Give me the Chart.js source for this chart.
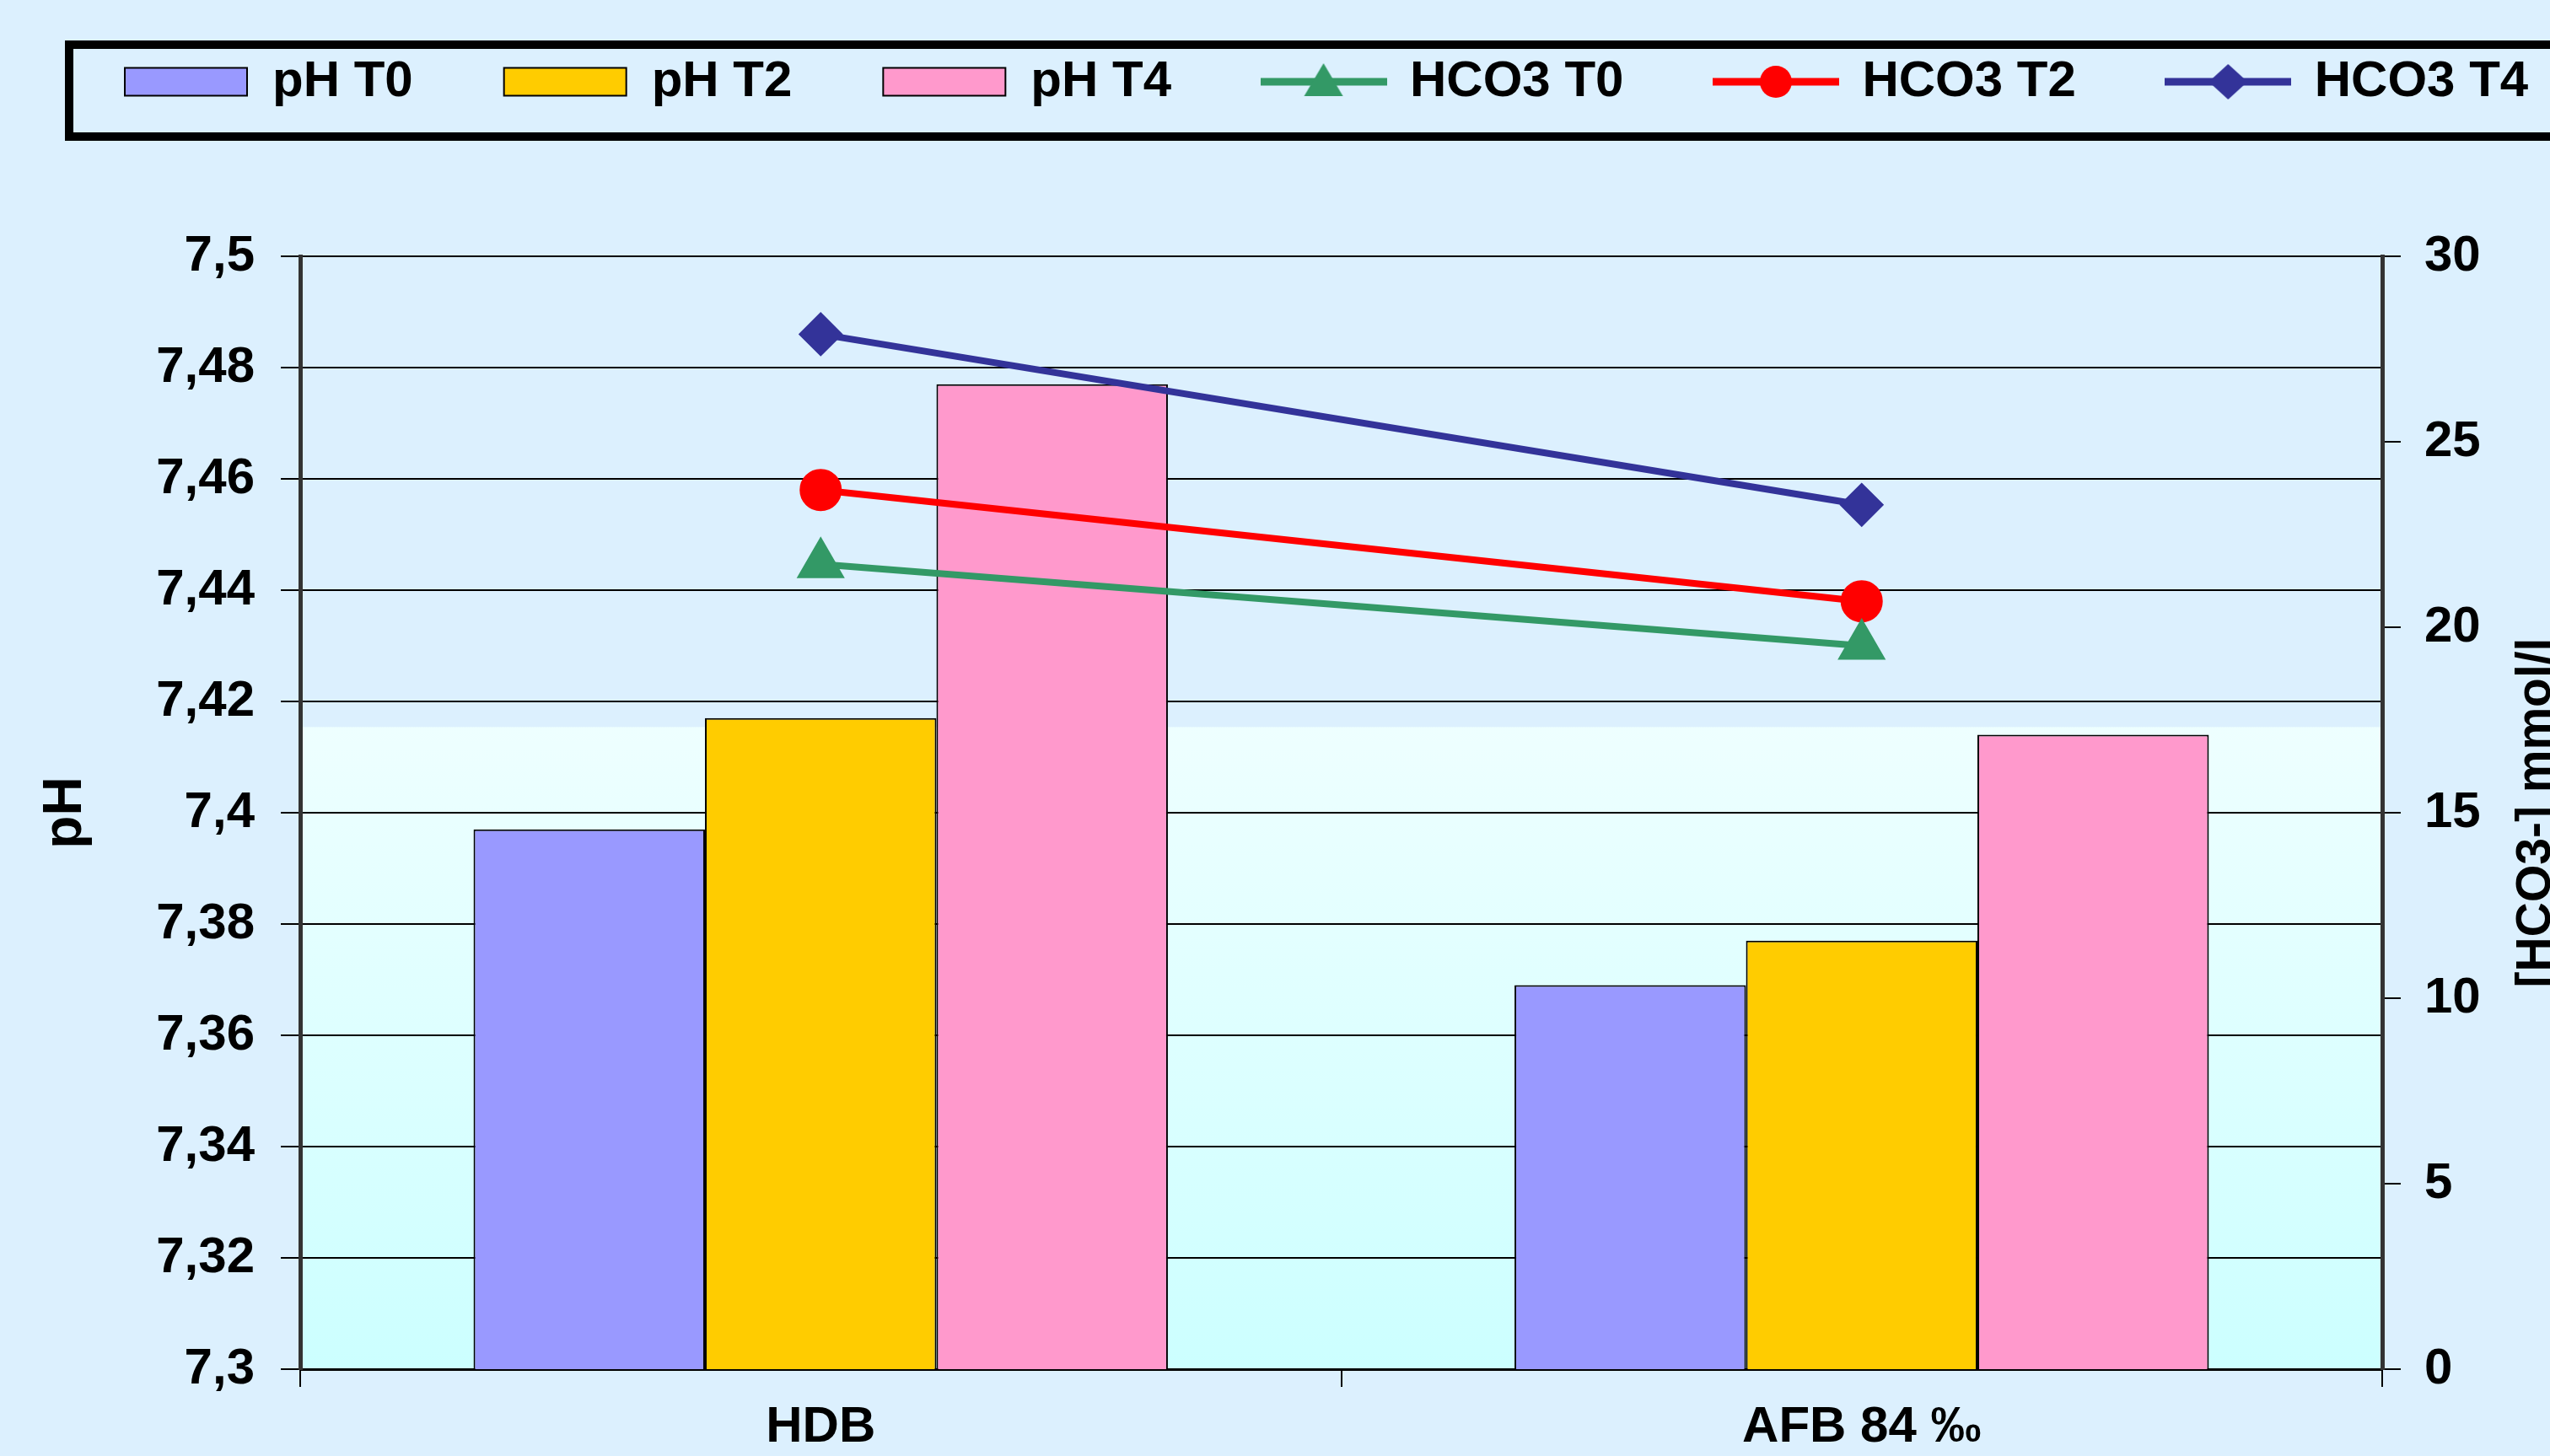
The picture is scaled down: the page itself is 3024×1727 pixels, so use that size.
<!DOCTYPE html>
<html>
<head>
<meta charset="utf-8">
<title>pH et HCO3</title>
<script src="https://cdn.jsdelivr.net/npm/chart.js"></script>
<style>
  html, body { margin: 0; padding: 0; background: #DCF0FE; }
  #wrap { width: 3024px; height: 1727px; }
</style>
</head>
<body>
<div id="wrap"><canvas id="ph_chart"></canvas></div>
<script>
const phChart = document.querySelector('#ph_chart')

const categories = ['HDB', 'AFB 84 ‰']
const phT0 = [7.397, 7.369]
const phT2 = [7.417, 7.377]
const phT4 = [7.477, 7.414]
const hco3T0 = [21.7, 19.5]
const hco3T2 = [23.7, 20.7]
const hco3T4 = [27.9, 23.3]
const phTicks = [7.3, 7.32, 7.34, 7.36, 7.38, 7.4, 7.42, 7.44, 7.46, 7.48, 7.5]
const phTickLabels = ['7,3', '7,32', '7,34', '7,36', '7,38', '7,4', '7,42', '7,44', '7,46', '7,48', '7,5']
const hco3Ticks = [0, 5, 10, 15, 20, 25, 30]

const FONT = 'Liberation Sans, Arial, sans-serif'
Chart.defaults.font.family = FONT
Chart.defaults.font.weight = 'bold'
Chart.defaults.color = '#000'

// small line + marker pictures for the legend
function lineSymbol(color, shape) {
  const c = document.createElement('canvas')
  c.width = 150
  c.height = 56
  const ctx = c.getContext('2d')
  ctx.strokeStyle = color
  ctx.fillStyle = color
  ctx.lineWidth = 9
  ctx.beginPath()
  ctx.moveTo(0, 28)
  ctx.lineTo(150, 28)
  ctx.stroke()
  const x = 75, y = 28
  ctx.beginPath()
  if (shape === 'triangle') {
    ctx.moveTo(x, y - 22); ctx.lineTo(x + 23, y + 17); ctx.lineTo(x - 23, y + 17)
  } else if (shape === 'circle') {
    ctx.arc(x, y, 19, 0, Math.PI * 2)
  } else {
    ctx.moveTo(x, y - 21); ctx.lineTo(x + 23, y); ctx.lineTo(x, y + 21); ctx.lineTo(x - 23, y)
  }
  ctx.closePath()
  ctx.fill()
  return c
}

const legendSpace = {
  id: 'legendSpace',
  beforeInit(chart) {
    const fit = chart.legend.fit
    chart.legend.fit = function () {
      fit.bind(chart.legend)()
      this.height = 345
    }
  }
}

const plotBg = {
  id: 'plotBg',
  beforeDraw(chart) {
    const { ctx, chartArea: a } = chart
    ctx.save()
    ctx.fillStyle = '#DCF0FE'
    ctx.fillRect(0, 0, chart.width, chart.height)
    const split = a.top + a.height * 0.423
    const g = ctx.createLinearGradient(0, split, 0, a.bottom)
    g.addColorStop(0, '#EEFFFF')
    g.addColorStop(1, '#CCFFFF')
    ctx.fillStyle = g
    ctx.fillRect(a.left, split, a.width, a.bottom - split)
    ctx.restore()
  }
}

const extras = {
  id: 'extras',
  afterDraw(chart) {
    const { ctx, chartArea: a } = chart
    ctx.save()
    // legend frame
    ctx.strokeStyle = '#000'
    ctx.lineWidth = 10
    ctx.strokeRect(82, 53, 3100, 109)
    // right axis title, reading upwards
    ctx.translate(3024, (a.top + a.bottom) / 2)
    ctx.rotate(-Math.PI / 2)
    ctx.font = 'bold 57px ' + FONT
    ctx.fillStyle = '#000'
    ctx.textAlign = 'center'
    ctx.textBaseline = 'alphabetic'
    ctx.fillText('[HCO3-] mmol/l', 0, 0)
    ctx.restore()
  }
}

const barStyle = { borderColor: '#000', borderWidth: 2, yAxisID: 'y', order: 2 }
const lineStyle = { type: 'line', yAxisID: 'y1', borderWidth: 8, pointBorderWidth: 2, order: 1 }

const legendSymbols = [null, null, null,
  lineSymbol('#339966', 'triangle'),
  lineSymbol('#FF0000', 'circle'),
  lineSymbol('#333399', 'diamond')]

new Chart(phChart, {
  type: 'bar',
  plugins: [plotBg, legendSpace, extras],
  data: {
    labels: categories,
    datasets: [
      { ...barStyle, label: 'pH T0', data: phT0, backgroundColor: '#9999FF' },
      { ...barStyle, label: 'pH T2', data: phT2, backgroundColor: '#FFCC00' },
      { ...barStyle, label: 'pH T4', data: phT4, backgroundColor: '#FF99CC' },
      { ...lineStyle, label: 'HCO3 T0', data: hco3T0, borderColor: '#339966', backgroundColor: '#339966',
        pointStyle: 'triangle', pointRadius: 31 },
      { ...lineStyle, label: 'HCO3 T2', data: hco3T2, borderColor: '#FF0000', backgroundColor: '#FF0000',
        pointStyle: 'circle', pointRadius: 24 },
      { ...lineStyle, label: 'HCO3 T4', data: hco3T4, borderColor: '#333399', backgroundColor: '#333399',
        pointStyle: 'rectRot', pointRadius: 25 }
    ]
  },
  options: {
    responsive: true,
    maintainAspectRatio: false,
    animation: false,
    devicePixelRatio: 1,
    layout: { padding: { left: 40, top: -41, right: -100, bottom: 0 } },
    datasets: {
      bar: { categoryPercentage: 0.667, barPercentage: 1.0 }
    },
    plugins: {
      tooltip: { enabled: false },
      title: { display: false },
      legend: {
        position: 'top',
        align: 'start',
        labels: {
          font: { size: 60, weight: 'bold' },
          color: '#000',
          usePointStyle: true,
          pointStyleWidth: 145,
          boxHeight: 33,
          padding: 108,
          sort: (a, b) => a.datasetIndex - b.datasetIndex,
          generateLabels: chart => {
            const items = Chart.defaults.plugins.legend.labels.generateLabels(chart)
            items.forEach(item => {
              item.pointStyle = legendSymbols[item.datasetIndex] || 'rect'
              item.rotation = 0
            })
            return items
          }
        }
      }
    },
    scales: {
      x: {
        offset: true,
        afterFit: s => { s.height = 103 },
        grid: { offset: true, drawOnChartArea: false, color: '#000', lineWidth: 2, tickLength: 21 },
        border: { color: '#000', width: 3 },
        ticks: { font: { size: 60, weight: 'bold' }, padding: 12, maxRotation: 0 }
      },
      y: {
        position: 'left',
        min: 7.3,
        max: 7.5,
        afterFit: s => { s.width = 316 },
        afterBuildTicks: s => { s.ticks = phTicks.map(v => ({ value: v })) },
        grid: { color: '#000', lineWidth: 2, tickLength: 23 },
        border: { color: '#333', width: 5 },
        ticks: {
          font: { size: 60, weight: 'bold' },
          padding: 31,
          callback: (v, i) => phTickLabels[i]
        },
        title: {
          display: true,
          text: 'pH',
          font: { size: 64, weight: 'bold' },
          padding: { top: 0, bottom: 0 }
        }
      },
      y1: {
        position: 'right',
        min: 0,
        max: 30,
        afterFit: s => { s.width = 299 },
        afterBuildTicks: s => { s.ticks = hco3Ticks.map(v => ({ value: v })) },
        grid: { drawOnChartArea: false, color: '#000', lineWidth: 2, tickLength: 22 },
        border: { color: '#333', width: 5 },
        ticks: {
          font: { size: 60, weight: 'bold' },
          padding: 28,
          callback: (v, i) => String(hco3Ticks[i])
        }
      }
    }
  }
})
</script>
</body>
</html>
